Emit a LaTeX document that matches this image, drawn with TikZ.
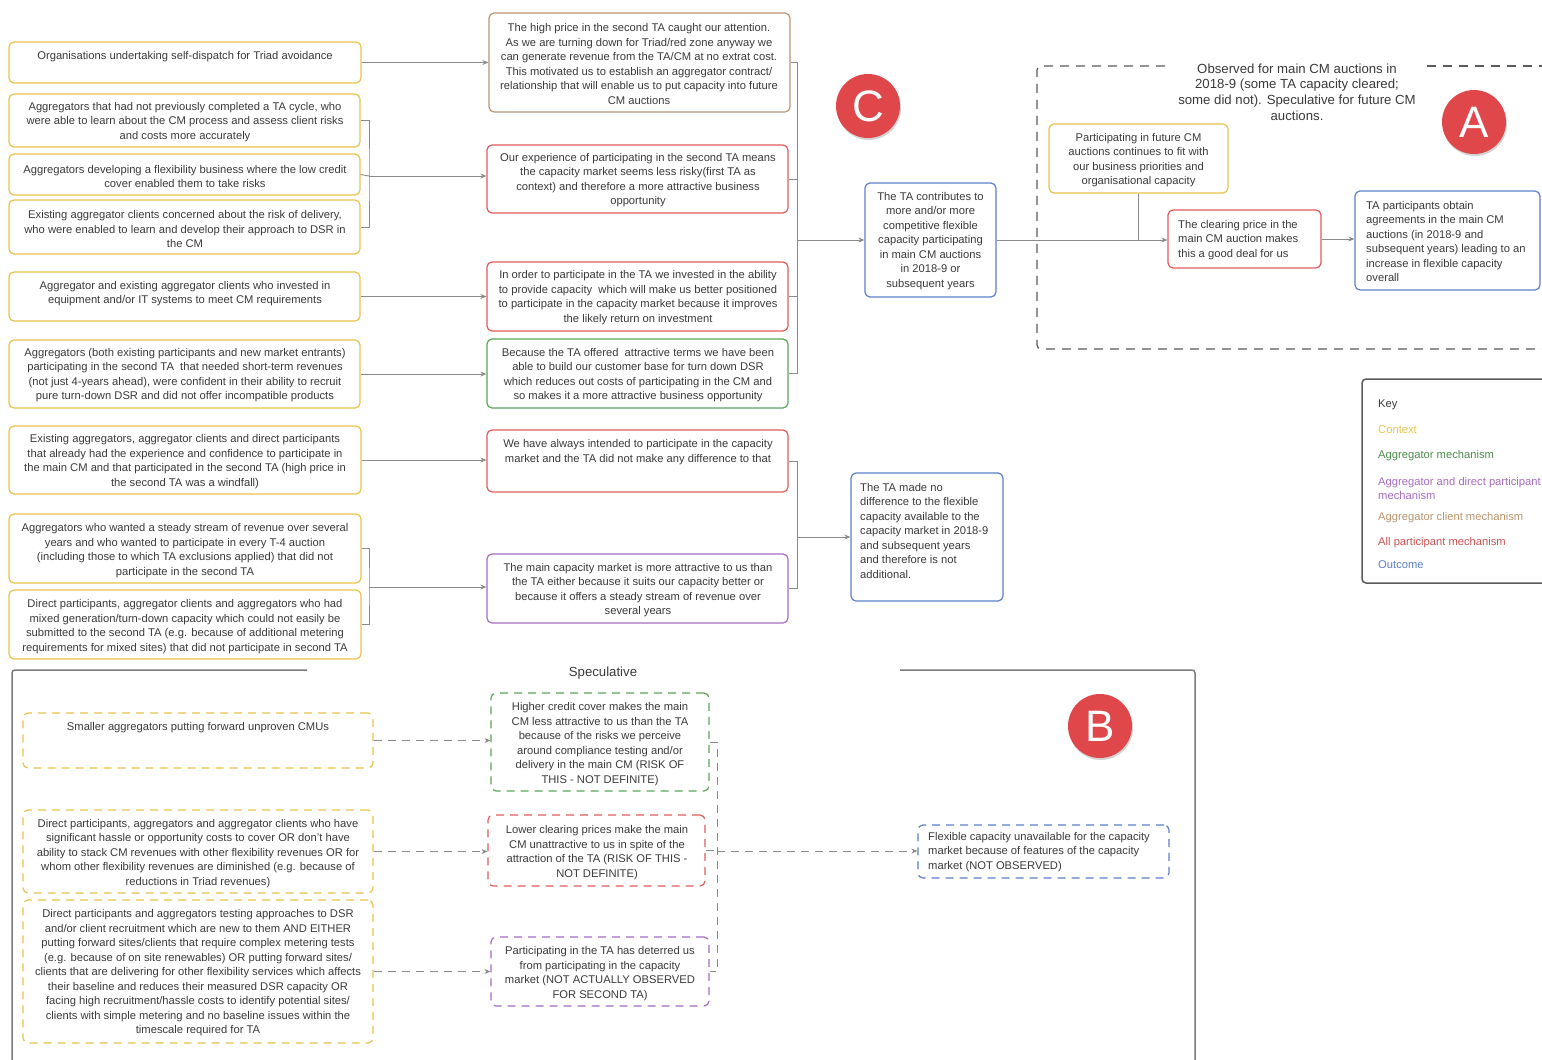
\documentclass[tikz,border=0pt]{standalone}
\usepackage{fontspec}
\setmainfont{Liberation Sans}
\usetikzlibrary{fit,arrows.meta,shadows}

\definecolor{ctxc}{HTML}{E8C24A}
\definecolor{redc}{HTML}{E05A5A}
\definecolor{greenc}{HTML}{5BA55B}
\definecolor{purplec}{HTML}{A56CC1}
\definecolor{brownc}{HTML}{B8956E}
\definecolor{bluec}{HTML}{5B7FC9}
\definecolor{txtc}{HTML}{3A3A3A}
\definecolor{linec}{HTML}{8A8A8A}
\definecolor{framec}{HTML}{5A5A5A}
\definecolor{badgec}{HTML}{E0474B}

\tikzset{
  box/.style={draw, rounded corners=5pt, line width=1.2pt, inner sep=0pt},
  ctxbox/.style={box, draw=ctxc},
  redbox/.style={box, draw=redc},
  greenbox/.style={box, draw=greenc},
  purplebox/.style={box, draw=purplec},
  brownbox/.style={box, draw=brownc},
  bluebox/.style={box, draw=bluec},
  dashbox/.style={box, dash pattern=on 8pt off 6pt},
  txt/.style={font=\fontsize{11.2}{14.5}\selectfont, text=txtc, align=center, inner sep=0pt, yshift=-1.5pt},
  ltxt/.style={txt, align=left},
  keytxt/.style={font=\fontsize{11.2}{14}\selectfont, inner sep=0pt, anchor=west, align=left, yshift=-1.5pt},
  conn/.style={draw=linec, line width=0.9pt},
  arr/.style={conn, -{Stealth[length=6pt,width=5pt]}},
  dconn/.style={conn, dash pattern=on 8pt off 6pt},
  darr/.style={dconn, -{Stealth[length=6pt,width=5pt]}},
  badge/.style={circle, fill=badgec, minimum size=64pt, inner sep=0pt, text=white,
    font=\fontsize{44}{44}\selectfont,
    drop shadow={opacity=0.35, shadow xshift=1pt, shadow yshift=-2pt}},
}

% box from its corner coordinates: style, name, x1, y1, x2, y2
\newcommand\mkbox[6]{\node[#1, fit={(#3,#4) (#5,#6)}] (#2) {};}

\begin{document}
\begin{tikzpicture}[x=1pt,y=-1pt]
\useasboundingbox (0,0) rectangle (1542,1060);
\clip (0,0) rectangle (1542,1060);

% ---------------- context column ----------------
\mkbox{ctxbox}{L1}{9}{42}{361}{83}
\mkbox{ctxbox}{L2}{9}{94}{360}{147}
\mkbox{ctxbox}{L3}{9}{154}{360}{195}
\mkbox{ctxbox}{L4}{9}{200}{360}{254}
\mkbox{ctxbox}{L5}{9}{272}{360}{321}
\mkbox{ctxbox}{L6}{9}{340}{360}{408}
\mkbox{ctxbox}{L7}{9}{426}{361}{494}
\mkbox{ctxbox}{L8}{9}{514}{361}{583}
\mkbox{ctxbox}{L9}{9}{590}{361}{659}

\node[txt] (L1t) at (185,55) {Organisations undertaking self-dispatch for Triad avoidance};
\node[txt] (L2t) at (185,120.5) {Aggregators that had not previously completed a TA cycle, who\\were able to learn about the CM process and assess client risks\\and costs more accurately};
\node[txt] (L3t) at (185,175) {Aggregators developing a flexibility business where the low credit\\cover enabled them to take risks};
\node[txt] (L4t) at (185,227.5) {Existing aggregator clients concerned about the risk of delivery,\\who were enabled to learn and develop their approach to DSR in\\the CM};
\node[txt] (L5t) at (185,292) {Aggregator and existing aggregator clients who invested in\\equipment and/or IT systems to meet CM requirements};
\node[txt] (L6t) at (185,373.5) {Aggregators (both existing participants and new market entrants)\\participating in the second TA\ \ that needed short-term revenues\\(not just 4-years ahead), were confident in their ability to recruit\\pure turn-down DSR and did not offer incompatible products};
\node[txt] (L7t) at (185,460) {Existing aggregators, aggregator clients and direct participants\\that already had the experience and confidence to participate in\\the main CM and that participated in the second TA (high price in\\the second TA was a windfall)};
\node[txt] (L8t) at (185,549) {Aggregators who wanted a steady stream of revenue over several\\years and who wanted to participate in every T-4 auction\\(including those to which TA exclusions applied) that did not\\participate in the second TA};
\node[txt] (L9t) at (185,625) {Direct participants, aggregator clients and aggregators who had\\mixed generation/turn-down capacity which could not easily be\\submitted to the second TA (e.g. because of additional metering\\requirements for mixed sites) that did not participate in second TA};

% ---------------- mechanism column ----------------
\mkbox{brownbox}{M1}{489}{13}{790}{112}
\mkbox{redbox}{M2}{487}{145}{788}{213}
\mkbox{redbox}{M3}{487}{262}{788}{331}
\mkbox{greenbox}{M4}{487}{339}{788}{408}
\mkbox{redbox}{M5}{487}{430}{788}{492}
\mkbox{purplebox}{M6}{487}{554}{788}{623}

\node[txt] (M1t) at (639,62.5) {The high price in the second TA caught our attention.\\As we are turning down for Triad/red zone anyway we\\can generate revenue from the TA/CM at no extrat cost.\\This motivated us to establish an aggregator contract/\\relationship that will enable us to put capacity into future\\CM auctions};
\node[txt] (M2t) at (638,178.5) {Our experience of participating in the second TA means\\the capacity market seems less risky(first TA as\\context) and therefore a more attractive business\\opportunity};
\node[txt] (M3t) at (638,296) {In order to participate in the TA we invested in the ability\\to provide capacity\ \ which will make us better positioned\\to participate in the capacity market because it improves\\the likely return on investment};
\node[txt] (M4t) at (638,373.5) {Because the TA offered\ \ attractive terms we have been\\able to build our customer base for turn down DSR\\which reduces out costs of participating in the CM and\\so makes it a more attractive business opportunity};
\node[txt] (M5t) at (638,450.5) {We have always intended to participate in the capacity\\market and the TA did not make any difference to that};
\node[txt] (M6t) at (638,588.5) {The main capacity market is more attractive to us than\\the TA either because it suits our capacity better or\\because it offers a steady stream of revenue over\\several years};

% ---------------- outcomes ----------------
\mkbox{bluebox}{R1}{865}{183}{996}{297}
\mkbox{bluebox}{R2}{851}{473}{1003}{601}
\node[txt] (R1t) at (930.5,239.5) {The TA contributes to\\more and/or more\\competitive flexible\\capacity participating\\in main CM auctions\\in 2018-9 or\\subsequent years};
\node[ltxt, anchor=west] (R2t) at (860,529) {The TA made no\\difference to the flexible\\capacity available to the\\capacity market in 2018-9\\and subsequent years\\and therefore is not\\additional.};

% ---------------- region A ----------------
\draw[framec, line width=1.3pt, dash pattern=on 9pt off 7pt, rounded corners=4pt]
  (1165,66) -- (1037,66) -- (1037,349) -- (1560,349);
\draw[framec, line width=1.3pt, dash pattern=on 9pt off 7pt] (1427,66) -- (1560,66);
\node[txt, font=\fontsize{13.2}{15.7}\selectfont] (At) at (1297,90.5) {Observed for main CM auctions in\\2018-9 (some TA capacity cleared;\\some did not). Speculative for future CM\\auctions.};

\mkbox{ctxbox}{Y1}{1049}{124}{1228}{193}
\mkbox{redbox}{CL}{1168}{210}{1321}{268}
\mkbox{bluebox}{B2}{1355}{191}{1540}{290}
\node[txt] (Y1t) at (1138.5,158.5) {Participating in future CM\\auctions continues to fit with\\our business priorities and\\organisational capacity};
\node[ltxt, anchor=west] (CLt) at (1178,238.5) {The clearing price in the\\main CM auction makes\\this a good deal for us};
\node[ltxt, anchor=west] (B2t) at (1366,240) {TA participants obtain\\agreements in the main CM\\auctions (in 2018-9 and\\subsequent years) leading to an\\increase in flexible capacity\\overall};

% ---------------- key ----------------
\node[draw=framec, line width=1.5pt, rounded corners=4pt, inner sep=0pt,
  fit={(1362,379) (1580,583)}] (key) {};
\node[keytxt, text=txtc] (k0) at (1378,403) {Key};
\node[keytxt, text=ctxc] (k1) at (1378,428) {Context};
\node[keytxt, text=greenc!85!black] (k2) at (1378,454) {Aggregator mechanism};
\node[keytxt, text=purplec] (k3) at (1378,487) {Aggregator and direct participant\\mechanism};
\node[keytxt, text=brownc] (k4) at (1378,516) {Aggregator client mechanism};
\node[keytxt, text=redc!90!black] (k5) at (1378,541) {All participant mechanism};
\node[keytxt, text=bluec] (k6) at (1378,563) {Outcome};

% ---------------- badges ----------------
\node[badge] (bC) at (868,106) {C};
\node[badge] (bA) at (1474,122) {A};
\node[badge] (bB) at (1100,726) {B};

% ---------------- connectors, upper part ----------------
\draw[arr] (L1.east) -- (L1.east -| M1.west);
\coordinate (b1) at (369,176);
\draw[conn] (L2.east) -| (b1) |- (L4.east);
\draw[conn] (L3.east) -- (b1);
\draw[arr] (b1) -- (b1 -| M2.west);
\draw[arr] (L5.east) -- (L5.east -| M3.west);
\draw[arr] (L6.east) -- (L6.east -| M4.west);
\draw[arr] (L7.east) -- (L7.east -| M5.west);
\coordinate (b2) at (369,587);
\draw[conn] (L8.east) -| (b2) |- (L9.east);
\draw[arr] (b2) -- (b2 -| M6.west);

\coordinate (j1) at (797,240);
\draw[conn] (M1.east) -- (M1.east -| j1) -- (M4.east -| j1) -- (M4.east);
\draw[conn] (M2.east) -- (M2.east -| j1);
\draw[conn] (M3.east) -- (M3.east -| j1);
\draw[arr] (j1) -- (j1 -| R1.west);

\coordinate (j2) at (797,537);
\draw[conn] (M5.east) -- (M5.east -| j2) -- (M6.east -| j2) -- (M6.east);
\draw[arr] (j2) -- (j2 -| R2.west);

\draw[arr] (R1.east) -- (R1.east -| CL.west);
\draw[conn] (Y1.south) -- (Y1.south |- R1.east);
\draw[arr] (CL.east) -- (CL.east -| B2.west);

% ---------------- region B (speculative) ----------------
\draw[framec!80, line width=1.5pt, rounded corners=3pt] (307,670) -- (12,670) -- (12,1075);
\draw[framec!80, line width=1.5pt, rounded corners=3pt] (900,670) -- (1195,670) -- (1195,1075);
\node[txt, font=\fontsize{13.2}{14}\selectfont] (St) at (603,672) {Speculative};

\mkbox{dashbox, draw=ctxc}{S1}{23}{713}{373}{768}
\mkbox{dashbox, draw=ctxc}{S2}{23}{810}{373}{893}
\mkbox{dashbox, draw=ctxc}{S3}{23}{900}{373}{1043}
\mkbox{dashbox, draw=greenc}{SM1}{491}{693}{709}{791}
\mkbox{dashbox, draw=redc}{SM2}{488}{815}{705}{886}
\mkbox{dashbox, draw=purplec}{SM3}{491}{937}{709}{1006}
\mkbox{dashbox, draw=bluec}{SB}{918}{825}{1169}{878}

\node[txt] (S1t) at (198,726) {Smaller aggregators putting forward unproven CMUs};
\node[txt] (S2t) at (198,852) {Direct participants, aggregators and aggregator clients who have\\significant hassle or opportunity costs to cover OR don't have\\ability to stack CM revenues with other flexibility revenues OR for\\whom other flexibility revenues are diminished (e.g. because of\\reductions in Triad revenues)};
\node[txt] (S3t) at (198,971.5) {Direct participants and aggregators testing approaches to DSR\\and/or client recruitment which are new to them AND EITHER\\putting forward sites/clients that require complex metering tests\\(e.g. because of on site renewables) OR putting forward sites/\\clients that are delivering for other flexibility services which affects\\their baseline and reduces their measured DSR capacity OR\\facing high recruitment/hassle costs to identify potential sites/\\clients with simple metering and no baseline issues within the\\timescale required for TA};
\node[txt] (SM1t) at (600,742.5) {Higher credit cover makes the main\\CM less attractive to us than the TA\\because of the risks we perceive\\around compliance testing and/or\\delivery in the main CM (RISK OF\\THIS - NOT DEFINITE)};
\node[txt] (SM2t) at (597,851) {Lower clearing prices make the main\\CM unattractive to us in spite of the\\attraction of the TA (RISK OF THIS -\\NOT DEFINITE)};
\node[txt] (SM3t) at (600,972) {Participating in the TA has deterred us\\from participating in the capacity\\market (NOT ACTUALLY OBSERVED\\FOR SECOND TA)};
\node[ltxt, anchor=west] (SBt) at (928,850.5) {Flexible capacity unavailable for the capacity\\market because of features of the capacity\\market (NOT OBSERVED)};

\draw[darr] (S1.east) -- (S1.east -| SM1.west);
\draw[darr] (S2.east) -- (S2.east -| SM2.west);
\draw[darr] (S3.east) -- (S3.east -| SM3.west);
\coordinate (j3) at (717,851);
\draw[dconn] (SM1.east) -- (SM1.east -| j3) -- (SM3.east -| j3) -- (SM3.east);
\draw[dconn] (SM2.east) -- (SM2.east -| j3);
\draw[darr] (j3) -- (j3 -| SB.west);
\end{tikzpicture}
\end{document}
